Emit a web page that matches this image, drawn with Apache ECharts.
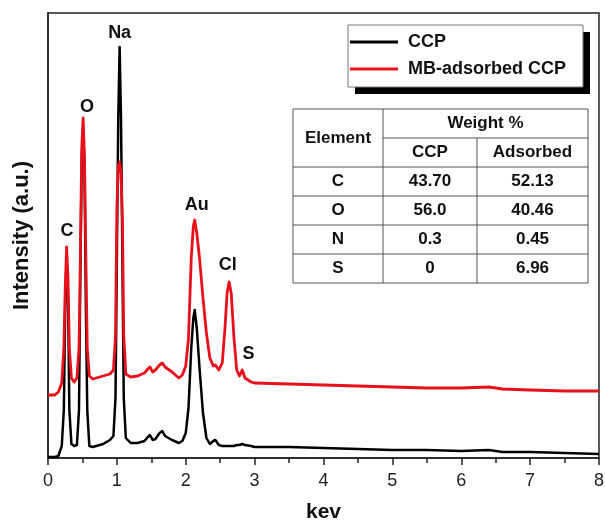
<!DOCTYPE html>
<html>
<head>
<meta charset="utf-8">
<script src="https://cdn.jsdelivr.net/npm/echarts@6/dist/echarts.min.js"></script>
<style>html,body{margin:0;padding:0;background:#fff}#c{width:605px;height:523px}</style>
</head>
<body>
<div id="c"></div>
<script>
// ---- data ----
var seriesNames = ['CCP', 'MB-adsorbed CCP'];
var xTicks = [0, 1, 2, 3, 4, 5, 6, 7, 8];

// energy grid (keV) shared by both spectra
var energy = [0, 0.1, 0.15, 0.2, 0.23, 0.25, 0.27, 0.29, 0.31, 0.34, 0.38, 0.42, 0.45, 0.47, 0.49, 0.51, 0.53, 0.55, 0.57, 0.6, 0.65, 0.7, 0.8, 0.9, 0.95, 0.98, 1.0, 1.02, 1.04, 1.06, 1.08, 1.1, 1.13, 1.2, 1.3, 1.4, 1.45, 1.48, 1.52, 1.56, 1.62, 1.66, 1.7, 1.8, 1.9, 1.95, 2.0, 2.04, 2.08, 2.11, 2.13, 2.16, 2.2, 2.25, 2.3, 2.35, 2.4, 2.43, 2.48, 2.53, 2.57, 2.6, 2.63, 2.66, 2.7, 2.74, 2.78, 2.82, 2.86, 2.95, 3.0, 3.5, 4.0, 4.5, 5.0, 5.5, 6.0, 6.4, 6.6, 7.0, 7.5, 8.0];
var ccpIntensity = [1, 1, 2, 12, 48, 150, 200, 165, 48, 14, 12, 13, 48, 190, 300, 330, 290, 150, 48, 12, 11, 12, 14, 18, 22, 60, 200, 340, 411, 340, 200, 60, 20, 15, 15, 17, 21, 23, 18, 19, 25, 27, 22, 18, 15, 17, 25, 50, 110, 140, 148, 130, 90, 45, 20, 14, 17, 18, 13, 12, 12, 12, 12, 12, 12, 13, 13, 14, 13, 12, 11, 11, 10, 9, 8, 8, 7, 8, 6, 6, 5, 4];
var mbIntensity = [63, 63, 66, 75, 110, 170, 211, 180, 110, 80, 76, 80, 110, 200, 310, 340, 300, 200, 110, 82, 79, 80, 82, 84, 88, 122, 250, 292, 296, 285, 240, 122, 84, 81, 82, 85, 89, 91, 86, 88, 93, 95, 91, 86, 80, 83, 92, 120, 200, 232, 238, 225, 200, 160, 125, 100, 92, 93, 88, 95, 130, 165, 176, 165, 120, 88, 82, 88, 80, 76, 75, 74, 73, 72, 71, 70, 70, 71, 69, 68, 67, 67];

var peakNames = ['C', 'O', 'Na', 'Au', 'Cl', 'S'];
var peakX = [0.275, 0.565, 1.04, 2.16, 2.61, 2.91];
var peakY = [227, 351, 425, 253, 193, 104];

var tableHeadRow1 = ['Element', 'Weight %'];
var tableHeadRow2 = ['CCP', 'Adsorbed'];
var tableElements = ['C', 'O', 'N', 'S'];
var tableCCP = ['43.70', '56.0', '0.3', '0'];
var tableAdsorbed = ['52.13', '40.46', '0.45', '6.96'];

// ---- build ----
function pairs(xs, ys) { return xs.map(function (x, i) { return [x, ys[i]]; }); }

var FONT = '"Liberation Sans", Arial, sans-serif';
var chart = echarts.init(document.getElementById('c'), null, { renderer: 'canvas' });

// table graphic
var tX0 = 293, tX1 = 383, tX2 = 477, tX3 = 588;
var tY0 = 109, tYmid = 138, tY1 = 167, rowH = 29;
var tEls = [];
var lineStyle = { stroke: '#555', lineWidth: 1 };
function L(x1, y1, x2, y2) { tEls.push({ type: 'line', shape: { x1: x1, y1: y1, x2: x2, y2: y2 }, style: lineStyle, silent: true }); }
function T(txt, cx, cy) { tEls.push({ type: 'text', x: cx, y: cy, style: { text: txt, font: 'bold 17px ' + FONT, fill: '#111', align: 'center', verticalAlign: 'middle' }, silent: true }); }
var tBottom = tY1 + rowH * tableElements.length;
tEls.push({ type: 'rect', shape: { x: tX0, y: tY0, width: tX3 - tX0, height: tBottom - tY0 }, style: { fill: '#fff', stroke: '#555', lineWidth: 1 }, silent: true });
L(tX1, tY0, tX1, tBottom);
L(tX1, tYmid, tX3, tYmid);
L(tX2, tYmid, tX2, tBottom);
for (var r = 0; r < tableElements.length; r++) { L(tX0, tY1 + r * rowH, tX3, tY1 + r * rowH); }
T(tableHeadRow1[0], (tX0 + tX1) / 2, (tY0 + tY1) / 2);
T(tableHeadRow1[1], (tX1 + tX3) / 2, (tY0 + tYmid) / 2);
T(tableHeadRow2[0], (tX1 + tX2) / 2, (tYmid + tY1) / 2);
T(tableHeadRow2[1], (tX2 + tX3) / 2, (tYmid + tY1) / 2);
for (var r2 = 0; r2 < tableElements.length; r2++) {
  var cy = tY1 + r2 * rowH + rowH / 2;
  T(tableElements[r2], (tX0 + tX1) / 2, cy);
  T(tableCCP[r2], (tX1 + tX2) / 2, cy);
  T(tableAdsorbed[r2], (tX2 + tX3) / 2, cy);
}

// legend frame with hard drop shadow
var lgX = 348, lgY = 25, lgW = 235, lgH = 62, shOff = 7;
var legendFrame = [
  { type: 'rect', shape: { x: lgX + shOff, y: lgY + shOff, width: lgW, height: lgH }, style: { fill: '#000' }, silent: true },
  { type: 'rect', shape: { x: lgX, y: lgY, width: lgW, height: lgH }, style: { fill: '#fff', stroke: '#777', lineWidth: 1 }, silent: true }
];

var option = {
  backgroundColor: '#fff',
  animation: false,
  textStyle: { fontFamily: FONT },
  grid: { left: 48, right: 6, top: 13, bottom: 65, show: true, borderColor: '#222', borderWidth: 1.5, backgroundColor: 'transparent', containLabel: false, outerBoundsMode: 'none' },
  legend: {
    orient: 'vertical',
    left: lgX, top: lgY,
    padding: [8, 10, 8, 2],
    itemGap: 9,
    itemWidth: 48, itemHeight: 3,
    icon: 'rect',
    backgroundColor: 'transparent',
    borderWidth: 0,
    z: 20,
    textStyle: { fontSize: 18, fontWeight: 'bold', color: '#111', fontFamily: FONT, padding: [0, 0, 0, 5] },
    data: seriesNames
  },
  xAxis: {
    type: 'value', min: xTicks[0], max: xTicks[xTicks.length - 1], interval: 1,
    name: 'kev', nameLocation: 'middle', nameGap: 44,
    nameTextStyle: { fontSize: 21, fontWeight: 'bold', color: '#111', fontFamily: FONT },
    axisLine: { show: true, lineStyle: { color: '#222', width: 1.5 } },
    axisTick: { show: true, inside: false, length: 7, lineStyle: { color: '#222', width: 1.5 } },
    minorTick: { show: true, splitNumber: 2, length: 5, lineStyle: { color: '#222', width: 1.5 } },
    axisLabel: { fontSize: 18, color: '#222', margin: 14, fontFamily: FONT },
    splitLine: { show: false }
  },
  yAxis: {
    type: 'value', min: 0, max: 445,
    name: 'Intensity (a.u.)', nameLocation: 'middle', nameGap: 15,
    nameTextStyle: { fontSize: 22, fontWeight: 'bold', color: '#111', fontFamily: FONT },
    axisLine: { show: true, lineStyle: { color: '#222', width: 1.5 } },
    axisTick: { show: false }, axisLabel: { show: false }, splitLine: { show: false }
  },
  series: [
    {
      name: seriesNames[0], type: 'line', data: pairs(energy, ccpIntensity), showSymbol: false, symbol: 'none',
      lineStyle: { color: '#000', width: 2.5, join: 'round' }, itemStyle: { color: '#000' }, z: 2
    },
    {
      name: seriesNames[1], type: 'line', data: pairs(energy, mbIntensity), showSymbol: false, symbol: 'none',
      lineStyle: { color: '#e8101a', width: 2.8, join: 'round' }, itemStyle: { color: '#e8101a' }, z: 3,
      markPoint: {
        symbol: 'circle', symbolSize: 1, itemStyle: { color: 'rgba(0,0,0,0)' },
        label: { show: true, position: 'inside', formatter: '{b}', fontSize: 18, fontWeight: 'bold', color: '#111', fontFamily: FONT },
        data: peakNames.map(function (n, i) { return { name: n, coord: [peakX[i], peakY[i]] }; })
      }
    }
  ],
  graphic: [
    { type: 'group', z: 1, children: legendFrame },
    { type: 'group', z: 100, children: tEls }
  ]
};
chart.setOption(option);
</script>
</body>
</html>
